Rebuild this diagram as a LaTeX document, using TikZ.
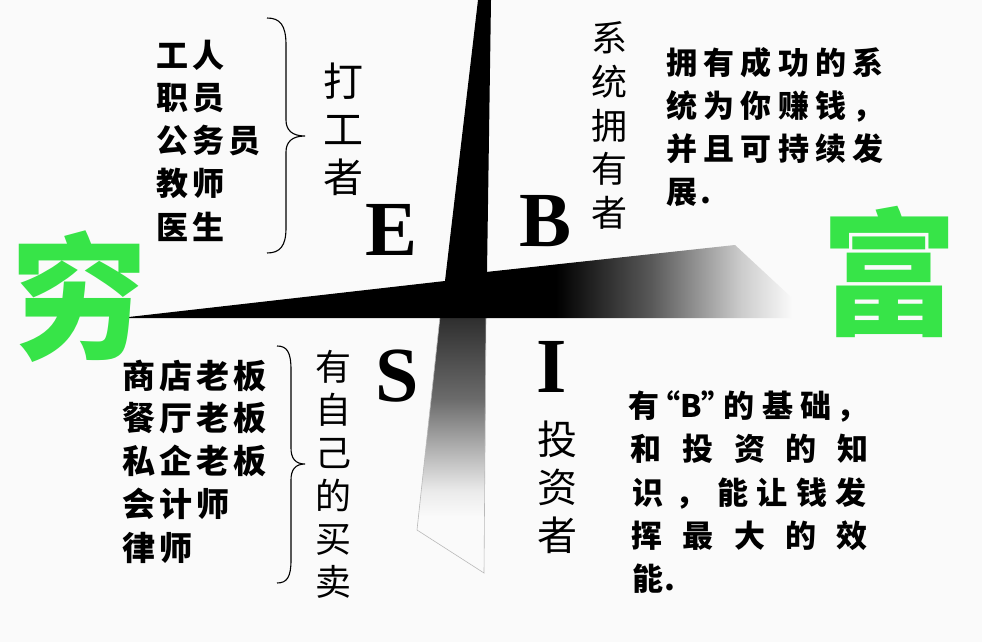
\documentclass[tikz,border=0pt]{standalone}
\usepackage{fontspec}
\setmainfont{Liberation Serif}
\newfontfamily\cjk{Noto Sans CJK SC}
\definecolor{bgc}{RGB}{250,250,250}
\definecolor{rgreen}{RGB}{55,228,72}
\pgfdeclarehorizontalshading{hbarshade}{100bp}{color(0bp)=(black); color(36bp)=(black); color(51bp)=(black!65); color(65bp)=(black!20); color(73bp)=(bgc); color(100bp)=(bgc)}
\pgfdeclareverticalshading{vbarshade}{100bp}{color(0bp)=(bgc); color(36bp)=(bgc); color(41bp)=(black!8); color(49bp)=(black!30); color(59bp)=(black!58); color(75bp)=(black!82); color(100bp)=(black!82)}
\tikzset{
  lst/.style={font=\cjk\bfseries\fontsize{32}{32}\selectfont, inner sep=0pt, text height=28pt, text depth=4pt},
  lstb/.style={font=\cjk\bfseries\fontsize{33}{33}\selectfont, inner sep=0pt, text height=29pt, text depth=4pt},
  par/.style={font=\cjk\bfseries\fontsize{31}{31}\selectfont, inner sep=0pt, text height=27pt, text depth=4pt},
  vlab/.style={font=\cjk\fontsize{36}{36}\selectfont, inner sep=0pt, text height=32pt, text depth=4pt},
  vlabbig/.style={font=\cjk\fontsize{40}{40}\selectfont, inner sep=0pt, text height=35pt, text depth=5pt},
  letter/.style={font=\bfseries\fontsize{78}{78}\selectfont, inner sep=0pt},
  bigchar/.style={font=\cjk\bfseries\fontsize{136}{136}\selectfont, inner sep=0pt, text=rgreen},
  bracepath/.style={draw=black, line width=1.1pt},
}
\newcommand\crow[6]{\foreach \c [count=\i] in {#6} {\node[#2] (#1-\i) at ({#3+(\i-1)*#5},#4) {\c};}}
\newcommand\ccol[6]{\foreach \c [count=\i] in {#6} {\node[#2] (#1-\i) at (#3,{#4+(\i-1)*#5}) {\c};}}
\begin{document}
\begin{tikzpicture}[x=1pt,y=-1pt]
\useasboundingbox (0,0) rectangle (982,642);
\fill[bgc] (0,0) rectangle (982,642);
% cross
\shade[shading=vbarshade, draw=gray!55, line width=0.6pt] (440,317) -- (486,317) -- (484,573) -- (417,530) -- cycle;
\shade[shading=hbarshade] (486,272) -- (560,264) -- (735,245) -- (805,310) -- (805,318) -- (486,318) -- cycle;
\fill[black] (478,0) -- (491,0) -- (487,272) -- (487,318) -- (120,318) -- (445,281) -- cycle;
% green characters
\node[bigchar] (qiong) at (79,297) {穷};
\node[bigchar] (fu) at (889,272) {富};
% letters
\node[letter] (E) at (392,230) {E};
\node[letter] (B) at (546,221) {B};
\node[letter] (S) at (397,376) {S};
\node[letter] (I) at (552,367) {I};
% top-left list
\crow{a}{lst}{172}{55}{36}{工,人}
\crow{b}{lst}{172}{97}{36}{职,员}
\crow{c}{lst}{172}{140}{36}{公,务,员}
\crow{d}{lst}{172}{183}{36}{教,师}
\crow{e}{lst}{172}{227}{36}{医,生}
\draw[bracepath] (267,18) .. controls (280,18) and (286,25) .. (286,45) -- (286,120) .. controls (286,130) and (292,136) .. (305,136) .. controls (292,136) and (286,142) .. (286,152) -- (286,228) .. controls (286,246) and (280,253) .. (267,253);
\ccol{dg}{vlabbig}{343}{81}{48}{打,工,者}
% bottom-left list
\crow{f}{lstb}{139}{376}{37}{商,店,老,板}
\crow{g}{lstb}{139}{418}{37}{餐,厅,老,板}
\crow{h}{lstb}{139}{461}{37}{私,企,老,板}
\crow{k}{lstb}{139}{504}{37}{会,计,师}
\crow{l}{lstb}{139}{548}{37}{律,师}
\draw[bracepath] (277,346) .. controls (287,346) and (291,352) .. (291,370) -- (291,448) .. controls (291,458) and (295,464) .. (305,464) .. controls (295,464) and (291,470) .. (291,480) -- (291,560) .. controls (291,577) and (287,583) .. (277,583);
\ccol{zm}{vlab}{333}{366}{43}{有,自,己,的,买,卖}
% top-right
\ccol{xt}{vlab}{609}{38}{43.5}{系,统,拥,有,者}
\crow{m}{par}{682}{63}{37.2}{拥,有,成,功,的,系}
\crow{n}{par}{682}{106}{37.2}{统,为,你,赚,钱,，}
\crow{o}{par}{682}{149}{37.2}{并,且,可,持,续,发}
\node[par] (p-1) at (682,192) {展};
\node[par] (p-2) at (706,192) {.};
% bottom-right
\ccol{tz}{vlabbig}{557}{439}{48}{投,资,者}
\node[par] (q-1) at (644,406) {有};
\node[par] (q-2) at (691,406) {“B”};
\node[par] (q-3) at (739,406) {的};
\node[par] (q-4) at (778,406) {基};
\node[par] (q-5) at (816,406) {础};
\node[par] (q-6) at (852,406) {，};
\crow{r}{par}{646}{449}{51.8}{和,投,资,的,知}
\node[par] (s-1) at (648,493) {识};
\node[par] (s-2) at (691,493) {，};
\crow{t}{par}{733}{493}{39.3}{能,让,钱,发}
\crow{u}{par}{647}{536}{51.3}{挥,最,大,的,效}
\node[par] (v-1) at (648,579) {能};
\node[par] (v-2) at (670,579) {.};
\end{tikzpicture}
\end{document}
